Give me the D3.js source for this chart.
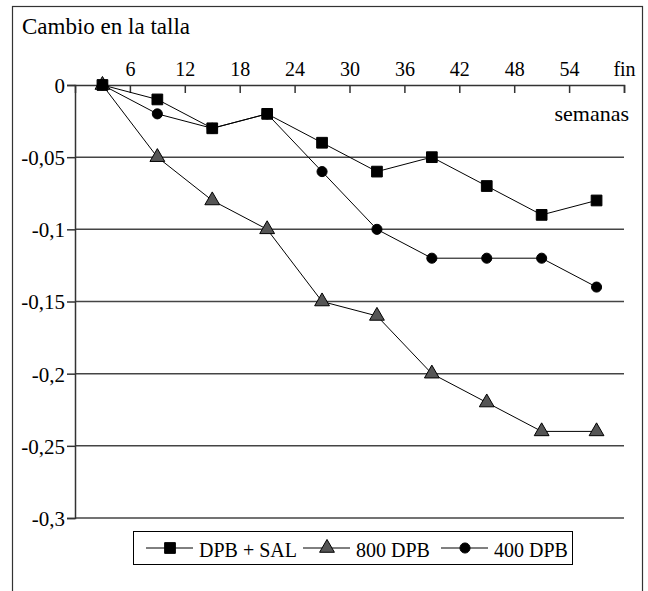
<!DOCTYPE html>
<html>
<head>
<meta charset="utf-8">
<script src="https://cdn.jsdelivr.net/npm/d3@7"></script>
<style>
  body { margin: 0; background: #fff; font-family: 'Liberation Serif'; }
</style>
</head>
<body>
<div id="chart-area"></div>
<script>
// SVG Size
let width = 648,
	height = 591;

// data
let weeks = ["", "6", "12", "18", "24", "30", "36", "42", "48", "54", "fin"];
let yTicks = [0, -0.05, -0.1, -0.15, -0.2, -0.25, -0.3];
let seriesNames = ["DPB + SAL", "800 DPB", "400 DPB"];
let dpbSal = [0, -0.01, -0.03, -0.02, -0.04, -0.06, -0.05, -0.07, -0.09, -0.08];
let dpb800 = [0, -0.05, -0.08, -0.1, -0.15, -0.16, -0.2, -0.22, -0.24, -0.24];
let dpb400 = [0, -0.02, -0.03, -0.02, -0.06, -0.1, -0.12, -0.12, -0.12, -0.14];

let serif = "'Liberation Serif'";
let plotLeft = 75, plotRight = 624, plotTop = 85, plotBottom = 518;

let svg = d3.select("#chart-area")
			.append("svg")
			.attr("width", width)
			.attr("height", height)
			.style("font-family", serif);

// outer frame
svg.append("rect")
	.attr("x", 12.5).attr("y", 6.5)
	.attr("width", 630).attr("height", 600)
	.attr("fill", "none")
	.attr("stroke", "#333")
	.attr("stroke-width", 1.2);

// x scale: boundaries 0..10, points in the middle of each slot
let xScale = d3.scaleLinear()
			.domain([0, dpbSal.length])
			.range([plotLeft, plotRight]);

let yScale = d3.scaleLinear()
			.domain([-0.3, 0])
			.range([plotBottom, plotTop]);

// gridlines
svg.append("g")
	.selectAll("line")
	.data(yTicks.filter(d => d !== 0))
	.enter()
	.append("line")
	.attr("x1", plotLeft).attr("x2", plotRight)
	.attr("y1", d => yScale(d)).attr("y2", d => yScale(d))
	.attr("stroke", "#444")
	.attr("stroke-width", 1.5);

// y axis
let yAxis = d3.axisLeft(yScale)
			.tickValues(yTicks)
			.tickSize(8)
			.tickPadding(2)
			.tickFormat(d => d === 0 ? "0" : d3.format(".2~f")(d).replace("−", "-").replace(".", ","));

let y = svg.append("g")
			.attr("class", "axis y-axis")
			.attr("transform", "translate(" + plotLeft + ",0)")
			.call(yAxis);

// x axis on top at y = 0, ticks pointing down, labels above
let xAxis = d3.axisTop(xScale)
			.tickValues(d3.range(1, weeks.length))
			.tickSize(-8)
			.tickPadding(9)
			.tickFormat(i => weeks[i]);

let x = svg.append("g")
			.attr("class", "axis x-axis")
			.attr("transform", "translate(0," + plotTop + ")")
			.call(xAxis);

svg.selectAll(".axis").attr("font-family", serif);
svg.selectAll(".axis path").attr("stroke", "#333").attr("stroke-width", 1.5);
svg.selectAll(".axis line").attr("stroke", "#333").attr("stroke-width", 1.5);
svg.selectAll(".x-axis text").attr("font-size", 20).attr("dy", 0);
svg.selectAll(".y-axis text").attr("font-size", 21).attr("dy", "0.35em");

// titles
svg.append("text")
	.attr("x", 22).attr("y", 34)
	.attr("font-size", 23)
	.text("Cambio en la talla");

svg.append("text")
	.attr("x", 629).attr("y", 121)
	.attr("text-anchor", "end")
	.attr("font-size", 22)
	.text("semanas");

let line = d3.line()
			.x((d, i) => xScale(i + 0.5))
			.y(d => yScale(d));

let allSeries = [dpbSal, dpb800, dpb400];
let shapes = [d3.symbolSquare, d3.symbolTriangle, d3.symbolCircle];
let sizes = [115, 95, 80];
let fills = ["#000", "#555", "#000"];

// draw in the order that puts squares on top
[1, 2, 0].forEach(k => {
	svg.append("path")
		.datum(allSeries[k])
		.attr("d", line)
		.attr("fill", "none")
		.attr("stroke", "#000")
		.attr("stroke-width", 1);
});
[1, 2, 0].forEach(k => {
	svg.append("g")
		.selectAll("path")
		.data(allSeries[k])
		.enter()
		.append("path")
		.attr("d", d3.symbol().type(shapes[k]).size(sizes[k]))
		.attr("transform", (d, i) => "translate(" + xScale(i + 0.5) + "," + yScale(d) + ")")
		.attr("fill", fills[k])
		.attr("stroke", "#000")
		.attr("stroke-width", 1);
});

// legend
let legend = svg.append("g");
legend.append("rect")
	.attr("x", 133.5).attr("y", 531.5)
	.attr("width", 439).attr("height", 33)
	.attr("fill", "#fff")
	.attr("stroke", "#000")
	.attr("stroke-width", 1);

let legendX = [146, 303, 441];
seriesNames.forEach((name, k) => {
	let g = legend.append("g").attr("transform", "translate(" + legendX[k] + ",548)");
	g.append("line")
		.attr("x1", 0).attr("x2", 47)
		.attr("stroke", "#000").attr("stroke-width", 1);
	g.append("path")
		.attr("d", d3.symbol().type(shapes[k]).size(sizes[k]))
		.attr("transform", "translate(24,0)")
		.attr("fill", fills[k])
		.attr("stroke", "#000")
		.attr("stroke-width", 1);
	g.append("text")
		.attr("x", 53).attr("y", 9)
		.attr("font-size", 20)
		.text(name);
});

// force layout so the fonts are used before the picture is taken
svg.selectAll("text").each(function () { this.getComputedTextLength(); });
</script>
</body>
</html>
